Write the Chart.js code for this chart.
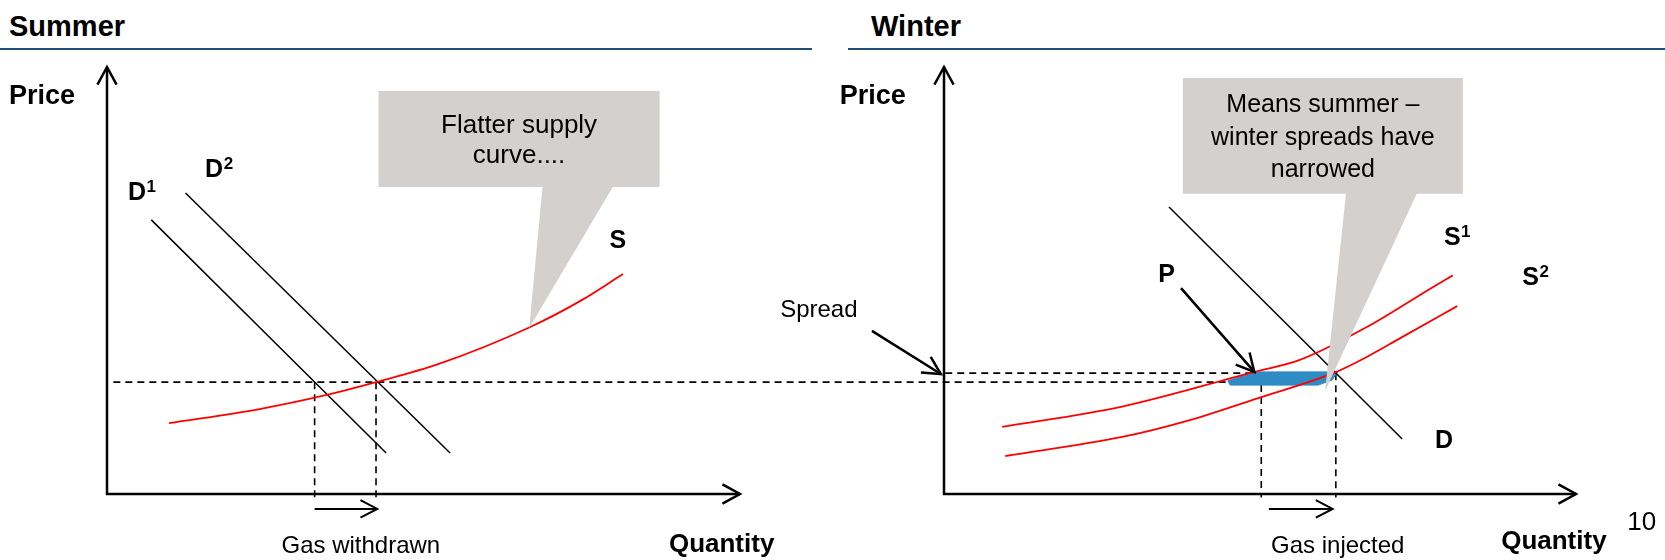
<!DOCTYPE html>
<html>
<head>
<meta charset="utf-8">
<title>Summer / Winter gas storage</title>
<script src="https://cdn.jsdelivr.net/npm/chart.js@4.4.0/dist/chart.umd.min.js"></script>
<style>
  html, body { margin: 0; padding: 0; background: #fff; }
  body { width: 1665px; height: 560px; position: relative; overflow: hidden; font-family: "Liberation Sans", Arial, sans-serif; }
  .title { position: absolute; top: 9px; font-size: 29px; line-height: 34px; font-weight: bold; color: #000; }
  .rule { position: absolute; top: 48px; height: 2px; background: #1f4e79; }
  canvas { position: absolute; top: 0; }
</style>
</head>
<body>
<div class="title" style="left:9px">Summer</div>
<div class="rule" style="left:0; width:812px"></div>
<div class="title" style="left:871px">Winter</div>
<div class="rule" style="left:848px; width:817px"></div>
<canvas id="summerChart" width="830" height="560" style="left:0"></canvas>
<canvas id="winterChart" width="905" height="560" style="left:760px"></canvas>

<script>
// ---- Summer market (quantity / price units, axes run 0..10) ----
const summerD1Qty = [0.70, 4.41];
const summerD1Price = [6.42, 0.96];
const summerD2Qty = [1.24, 5.42];
const summerD2Price = [7.05, 0.96];
const summerSQty = [0.98, 2.41, 3.47, 4.25, 5.23, 6.67, 7.50, 8.15];
const summerSPrice = [1.66, 1.99, 2.32, 2.62, 3.04, 3.90, 4.54, 5.15];
const summerPrice = 2.62;
const withdrawnQty = [3.28, 4.25];

// ---- Winter market ----
const winterDQty = [3.56, 7.25];
const winterDPrice = [6.72, 1.29];
const winterS1Qty = [0.92, 2.80, 4.91, 5.63, 6.69, 7.74, 8.05];
const winterS1Price = [1.57, 2.04, 2.86, 3.14, 3.91, 4.85, 5.12];
const winterS2Qty = [0.97, 2.80, 3.89, 5.02, 6.16, 6.69, 7.22, 8.12];
const winterS2Price = [0.89, 1.33, 1.73, 2.27, 2.83, 3.21, 3.65, 4.40];
const winterPrice = 2.83;
const injectedQty = [5.02, 6.20];
// narrowed spread band between the two price levels
const spreadQty = [4.49, 4.92, 6.23, 6.14, 5.92, 4.53, 4.49];
const spreadPrice = [2.65, 2.86, 2.86, 2.67, 2.55, 2.55, 2.65];

const pts = (qs, ps) => qs.map((q, i) => ({ x: q, y: ps[i] }));

function curve(qs, ps, color, width, extra) {
  return Object.assign({
    data: pts(qs, ps),
    showLine: true,
    borderColor: color,
    borderWidth: width,
    pointRadius: 0,
    fill: false,
    clip: false,
    cubicInterpolationMode: 'monotone'
  }, extra || {});
}
const dashed = (qs, ps) => curve(qs, ps, '#000', 1.6, { borderDash: [7, 5], cubicInterpolationMode: 'default' });

function drawArrow(ctx, x1, y1, x2, y2, width, head, angle) {
  const a = Math.atan2(y2 - y1, x2 - x1);
  ctx.save();
  ctx.strokeStyle = '#000';
  ctx.lineWidth = width;
  ctx.lineCap = 'butt';
  ctx.lineJoin = 'miter';
  ctx.beginPath();
  ctx.moveTo(x1, y1);
  ctx.lineTo(x2, y2);
  ctx.stroke();
  ctx.beginPath();
  ctx.moveTo(x2 - head * Math.cos(a - angle), y2 - head * Math.sin(a - angle));
  ctx.lineTo(x2, y2);
  ctx.lineTo(x2 - head * Math.cos(a + angle), y2 - head * Math.sin(a + angle));
  ctx.stroke();
  ctx.restore();
}

// axes, callout bubble, arrows and labels, all placed through the chart scales
function diagramPlugin(spec) {
  return {
    id: 'diagram',
    afterDatasetsDraw(chart) {
      const ctx = chart.ctx;
      const px = q => chart.scales.x.getPixelForValue(q);
      const py = p => chart.scales.y.getPixelForValue(p);

      // axes
      drawArrow(ctx, px(0), py(0) + 1, px(0), py(10), 2.5, 20, 0.5);
      drawArrow(ctx, px(0) - 1, py(0), px(10), py(0), 2.5, 20, 0.5);

      // callout
      const c = spec.callout;
      ctx.save();
      ctx.fillStyle = '#d3d0cd';
      ctx.beginPath();
      ctx.moveTo(px(c.box[0]), py(c.box[3]));
      ctx.lineTo(px(c.box[1]), py(c.box[3]));
      ctx.lineTo(px(c.box[1]), py(c.box[2]));
      ctx.lineTo(px(c.tail[1]), py(c.box[2]));
      ctx.lineTo(px(c.tip[0]), py(c.tip[1]));
      ctx.lineTo(px(c.tail[0]), py(c.box[2]));
      ctx.lineTo(px(c.box[0]), py(c.box[2]));
      ctx.closePath();
      ctx.fill();
      ctx.fillStyle = '#000';
      ctx.font = c.fontSize + 'px "Liberation Sans", Arial, sans-serif';
      ctx.textAlign = 'center';
      ctx.textBaseline = 'middle';
      const cx = (px(c.box[0]) + px(c.box[1])) / 2;
      const cy = (py(c.box[2]) + py(c.box[3])) / 2 + 2;
      c.lines.forEach((t, i) => {
        ctx.fillText(t, cx, cy + (i - (c.lines.length - 1) / 2) * c.lineHeight);
      });
      ctx.restore();

      spec.arrows.forEach(a => {
        drawArrow(ctx, px(a.from[0]), py(a.from[1]), px(a.to[0]), py(a.to[1]), a.width, a.head, 0.48);
      });

      spec.labels.forEach(l => {
        ctx.save();
        ctx.fillStyle = '#000';
        ctx.font = (l.bold ? 'bold ' : '') + l.size + 'px "Liberation Sans", Arial, sans-serif';
        ctx.textAlign = l.align || 'left';
        ctx.textBaseline = l.baseline || 'alphabetic';
        const x = px(l.q), y = py(l.p);
        ctx.fillText(l.text, x, y);
        if (l.sup) {
          const w = ctx.measureText(l.text).width;
          ctx.font = 'bold ' + Math.round(l.size * 0.68) + 'px "Liberation Sans", Arial, sans-serif';
          ctx.fillText(l.sup, x + w + 0.5, y - l.size * 0.32);
        }
        ctx.restore();
      });
    }
  };
}

function makePanel(id, padding, datasets, spec) {
  return new Chart(document.getElementById(id), {
    type: 'scatter',
    data: { datasets },
    options: {
      responsive: false,
      animation: false,
      layout: { padding },
      plugins: { legend: { display: false }, tooltip: { enabled: false } },
      scales: {
        x: { type: 'linear', min: 0, max: 10, display: false },
        y: { type: 'linear', min: 0, max: 10, display: false }
      }
    },
    plugins: [diagramPlugin(spec)]
  });
}

makePanel('summerChart', { left: 107, right: 90, top: 67, bottom: 66 }, [
  curve(summerSQty, summerSPrice, '#ff0000', 1.8),
  curve(summerD1Qty, summerD1Price, '#000', 1.5),
  curve(summerD2Qty, summerD2Price, '#000', 1.5),
  dashed([0.1, 10.3], [summerPrice, summerPrice]),
  dashed([withdrawnQty[0], withdrawnQty[0]], [summerPrice, -0.08]),
  dashed([withdrawnQty[1], withdrawnQty[1]], [summerPrice, -0.08])
], {
  callout: {
    box: [4.29, 8.73, 7.19, 9.44], tail: [6.88, 7.99], tip: [6.67, 3.89],
    lines: ['Flatter supply', 'curve....'], lineHeight: 30, fontSize: 26
  },
  arrows: [
    { from: [withdrawnQty[0], -0.35], to: [withdrawnQty[1] + 0.02, -0.35], width: 2, head: 19 }
  ],
  labels: [
    { text: 'Price', q: -1.55, p: 9.13, bold: true, size: 27 },
    { text: 'D', sup: '1', q: 0.33, p: 6.89, bold: true, size: 25 },
    { text: 'D', sup: '2', q: 1.55, p: 7.42, bold: true, size: 25 },
    { text: 'S', q: 7.94, p: 5.76, bold: true, size: 25 },
    { text: 'Gas withdrawn', q: 4.01, p: -1.22, size: 24, align: 'center', baseline: 'middle' },
    { text: 'Quantity', q: 9.71, p: -1.19, bold: true, size: 26, align: 'center', baseline: 'middle' }
  ]
});

makePanel('winterChart', { left: 184, right: 89, top: 67, bottom: 66 }, [
  curve(winterS1Qty, winterS1Price, '#ff0000', 1.8),
  curve(winterS2Qty, winterS2Price, '#ff0000', 1.8),
  curve(winterDQty, winterDPrice, '#000', 1.5),
  curve(spreadQty, spreadPrice, '#2e8bc4', 1, { backgroundColor: '#2e8bc4', fill: 'shape', cubicInterpolationMode: 'default' }),
  dashed([-2.87, 4.49], [summerPrice, summerPrice]),
  dashed([0.02, 4.91], [winterPrice, winterPrice]),
  dashed([injectedQty[0], injectedQty[0]], [2.55, -0.08]),
  dashed([injectedQty[1], injectedQty[1]], [winterPrice, -0.08])
], {
  callout: {
    box: [3.78, 8.21, 7.03, 9.74], tail: [6.36, 7.48], tip: [6.03, 2.41],
    lines: ['Means summer \u2013', 'winter spreads have', 'narrowed'], lineHeight: 32.5, fontSize: 25
  },
  arrows: [
    { from: [5.14, -0.35], to: [6.15, -0.35], width: 2, head: 19 },
    { from: [-1.14, 3.82], to: [-0.05, 2.81], width: 2.5, head: 20 },
    { from: [3.75, 4.82], to: [4.91, 2.86], width: 2.5, head: 20 }
  ],
  labels: [
    { text: 'Price', q: -1.65, p: 9.13, bold: true, size: 27 },
    { text: 'Spread', q: -1.98, p: 4.29, size: 24, align: 'center', baseline: 'middle' },
    { text: 'P', q: 3.39, p: 4.96, bold: true, size: 25 },
    { text: 'S', sup: '1', q: 7.91, p: 5.83, bold: true, size: 25 },
    { text: 'S', sup: '2', q: 9.15, p: 4.89, bold: true, size: 25 },
    { text: 'D', q: 7.77, p: 1.08, bold: true, size: 25 },
    { text: 'Gas injected', q: 6.23, p: -1.22, size: 24, align: 'center', baseline: 'middle' },
    { text: 'Quantity', q: 9.65, p: -1.12, bold: true, size: 26, align: 'center', baseline: 'middle' },
    { text: '10', q: 10.81, p: -0.68, size: 26, baseline: 'middle' }
  ]
});
</script>
</body>
</html>
